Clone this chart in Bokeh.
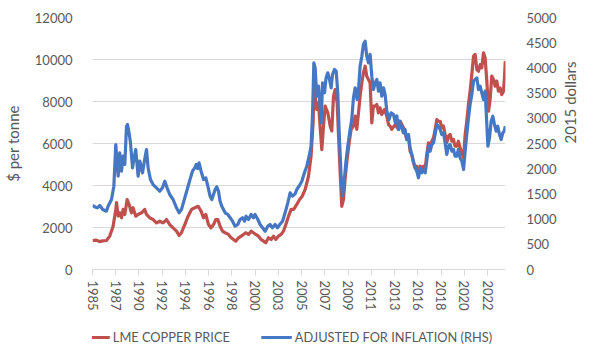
import math
import numpy as np
from bokeh.plotting import figure
from bokeh.layouts import column
from bokeh.models import (Range1d, LinearAxis, FixedTicker, SingleIntervalTicker,
                          Legend, LegendItem)
from bokeh.embed import file_html
from bokeh.resources import INLINE

# ---------------- data ----------------
red_year = [1985.75, 1986.1, 1986.4, 1986.7, 1987.05, 1987.36, 1987.67, 1987.92, 1987.99, 1988.14,
            1988.29, 1988.45, 1988.6, 1988.76, 1988.98, 1989.16, 1989.38, 1989.53, 1989.78, 1990.0,
            1990.32, 1990.62, 1990.78, 1991.09, 1991.4, 1991.71, 1992.02, 1992.33, 1992.65, 1992.95,
            1993.26, 1993.58, 1993.82, 1994.04, 1994.35, 1994.66, 1994.98, 1995.28, 1995.6, 1995.87,
            1996.1, 1996.31, 1996.56, 1996.8, 1997.03, 1997.24, 1997.43, 1997.64, 1997.86, 1998.11,
            1998.42, 1998.67, 1998.89, 1999.1, 1999.36, 1999.6, 1999.82, 2000.04, 2000.29, 2000.53,
            2000.75, 2000.97, 2001.22, 2001.46, 2001.69, 2001.9, 2002.15, 2002.4, 2002.62, 2002.83,
            2003.08, 2003.33, 2003.55, 2003.77, 2004.02, 2004.26, 2004.5, 2004.79, 2005.05, 2005.3,
            2005.57, 2005.88, 2006.12, 2006.31, 2006.4, 2006.5, 2006.65, 2006.81, 2006.96, 2007.12,
            2007.28, 2007.43, 2007.68, 2007.9, 2008.05, 2008.21, 2008.36, 2008.55, 2008.68, 2008.83,
            2008.98, 2009.14, 2009.29, 2009.48, 2009.67, 2009.85, 2010.07, 2010.23, 2010.38, 2010.54,
            2010.69, 2010.85, 2011.0, 2011.16, 2011.31, 2011.47, 2011.62, 2011.78, 2011.93, 2012.09,
            2012.25, 2012.4, 2012.55, 2012.71, 2012.96, 2013.18, 2013.34, 2013.49, 2013.64, 2013.95,
            2014.27, 2014.42, 2014.58, 2014.73, 2014.88, 2015.04, 2015.2, 2015.35, 2015.5, 2015.66,
            2015.82, 2015.97, 2016.13, 2016.29, 2016.45, 2016.6, 2016.76, 2016.9, 2017.06, 2017.22,
            2017.37, 2017.53, 2017.68, 2017.84, 2017.99, 2018.15, 2018.3, 2018.46, 2018.61, 2018.77,
            2018.92, 2019.08, 2019.24, 2019.39, 2019.54, 2019.7, 2019.85, 2020.01, 2020.17, 2020.33,
            2020.48, 2020.63, 2020.79, 2020.94, 2021.1, 2021.26, 2021.41, 2021.57, 2021.72, 2021.88,
            2022.03, 2022.19, 2022.34, 2022.5, 2022.66, 2022.81, 2022.96, 2023.12, 2023.27, 2023.43,
            2023.58, 2023.74, 2023.89, 2024.05, 2024.14, 2024.22]
red_price = [1380, 1400, 1330, 1360, 1380, 1590, 2060, 2860, 3190, 2540,
             2700, 2460, 2860, 2620, 3330, 3100, 2700, 2940, 2540, 2620,
             2700, 2860, 2620, 2460, 2380, 2220, 2300, 2220, 2380, 2140,
             1980, 1825, 1620, 1750, 2140, 2540, 2860, 2940, 3010, 2780,
             2460, 2620, 2140, 1980, 2140, 2380, 2380, 2060, 1825, 1750,
             1670, 1510, 1430, 1350, 1510, 1590, 1670, 1750, 1670, 1825,
             1750, 1670, 1590, 1430, 1350, 1270, 1510, 1430, 1590, 1430,
             1590, 1670, 1825, 2140, 2540, 2860, 2860, 3100, 3330, 3490,
             3810, 4440, 5400, 6980, 8890, 8250, 7620, 7940, 6830, 5710,
             6830, 7780, 7460, 6830, 6600, 8250, 8570, 7940, 6350, 4600,
             3010, 3330, 4290, 5240, 6030, 6670, 6830, 7300, 6670, 7460,
             8250, 8890, 9370, 9680, 9200, 9050, 8890, 6980, 7780, 7780,
             7860, 7460, 7700, 7380, 7620, 7300, 6900, 6830, 6670, 6900,
             6670, 7060, 6900, 6750, 6510, 6190, 6270, 5630, 5480, 5080,
             4840, 4920, 4600, 4920, 4840, 4920, 4840, 5480, 6030, 5790,
             6110, 6270, 6670, 7140, 7060, 7060, 6750, 6830, 6430, 6030,
             6350, 6430, 6110, 6190, 5870, 5870, 6110, 5790, 5560, 5320,
             6430, 7060, 7860, 8490, 9290, 10160, 10240, 9520, 9440, 9760,
             9600, 10320, 10080, 8970, 7540, 8100, 9210, 9050, 8730, 8970,
             8490, 8650, 8330, 8490, 9100, 9920]

blue_year = [1985.75, 1986.0, 1986.2, 1986.43, 1986.7, 1987.05, 1987.2, 1987.52, 1987.74, 1987.92,
             1988.14, 1988.29, 1988.45, 1988.6, 1988.76, 1988.92, 1989.01, 1989.16, 1989.29, 1989.48,
             1989.6, 1989.78, 1990.0, 1990.16, 1990.41, 1990.56, 1990.78, 1990.93, 1991.15, 1991.4,
             1991.71, 1992.02, 1992.27, 1992.49, 1992.7, 1992.95, 1993.26, 1993.58, 1993.82, 1994.04,
             1994.35, 1994.66, 1994.88, 1995.07, 1995.28, 1995.42, 1995.55, 1995.68, 1995.87, 1996.1,
             1996.31, 1996.5, 1996.71, 1996.87, 1997.03, 1997.18, 1997.33, 1997.49, 1997.64, 1997.8,
             1997.96, 1998.11, 1998.36, 1998.58, 1998.8, 1999.04, 1999.29, 1999.5, 1999.73, 1999.92,
             2000.06, 2000.29, 2000.53, 2000.75, 2000.9, 2001.16, 2001.37, 2001.6, 2001.84, 2002.09,
             2002.3, 2002.52, 2002.77, 2002.99, 2003.2, 2003.46, 2003.7, 2003.95, 2004.17, 2004.39,
             2004.63, 2004.79, 2005.0, 2005.26, 2005.5, 2005.72, 2005.94, 2006.12, 2006.25, 2006.38,
             2006.5, 2006.65, 2006.81, 2006.96, 2007.06, 2007.19, 2007.37, 2007.52, 2007.68, 2007.84,
             2007.99, 2008.12, 2008.3, 2008.46, 2008.61, 2008.73, 2008.92, 2009.05, 2009.17, 2009.36,
             2009.54, 2009.76, 2009.91, 2010.07, 2010.23, 2010.41, 2010.54, 2010.69, 2010.85, 2011.0,
             2011.16, 2011.31, 2011.47, 2011.62, 2011.78, 2011.93, 2012.09, 2012.25, 2012.4, 2012.55,
             2012.71, 2012.87, 2013.02, 2013.18, 2013.39, 2013.58, 2013.8, 2013.98, 2014.11, 2014.27,
             2014.42, 2014.57, 2014.73, 2014.88, 2015.04, 2015.2, 2015.35, 2015.5, 2015.66, 2015.82,
             2015.97, 2016.13, 2016.29, 2016.45, 2016.6, 2016.76, 2016.9, 2017.06, 2017.22, 2017.37,
             2017.53, 2017.68, 2017.84, 2017.99, 2018.15, 2018.3, 2018.46, 2018.61, 2018.77, 2018.92,
             2019.08, 2019.24, 2019.39, 2019.54, 2019.7, 2019.85, 2020.01, 2020.17, 2020.33, 2020.48,
             2020.63, 2020.79, 2020.94, 2021.1, 2021.26, 2021.41, 2021.57, 2021.72, 2021.88, 2022.03,
             2022.19, 2022.34, 2022.5, 2022.6, 2022.75, 2022.9, 2023.06, 2023.21, 2023.37, 2023.52,
             2023.68, 2023.83, 2023.99, 2024.12, 2024.22]
blue_real = [1270, 1240, 1224, 1270, 1190, 1157, 1257, 1389, 1653, 2480,
             1851, 2315, 1950, 2248, 2083, 2843, 2877, 2711, 2513, 2018,
             2183, 2381, 1851, 2150, 1918, 2116, 2381, 2018, 1786, 1686,
             1620, 1554, 1620, 1752, 1620, 1488, 1389, 1224, 1125, 1190,
             1422, 1653, 1818, 1950, 2018, 2083, 2000, 2117, 1950, 1786,
             1819, 1653, 1455, 1389, 1488, 1587, 1641, 1554, 1356, 1256,
             1190, 1125, 1091, 1026, 959, 860, 893, 992, 1026, 959,
             1058, 992, 1091, 1026, 1091, 992, 893, 827, 760, 860,
             893, 827, 893, 827, 893, 959, 1125, 1323, 1521, 1455,
             1500, 1587, 1653, 1752, 1918, 2050, 2248, 2447, 3042, 4101,
             4002, 3438, 3637, 3240, 2910, 3704, 3506, 3803, 3902, 3770,
             3605, 3869, 3968, 3935, 3506, 2778, 1851, 1455, 1653, 2117,
             2447, 2778, 2976, 3406, 3605, 3373, 3571, 4034, 4232, 4464,
             4530, 4232, 4101, 4266, 3835, 3571, 3704, 3770, 3538, 3704,
             3438, 3605, 3472, 3141, 2976, 3108, 3075, 2910, 3050, 2778,
             2942, 2810, 2711, 2778, 2579, 2678, 2414, 2282, 2150, 2018,
             1950, 1819, 2018, 1918, 1984, 1918, 2150, 2447, 2348, 2480,
             2513, 2678, 2877, 2843, 2778, 2678, 2711, 2513, 2282, 2447,
             2480, 2348, 2381, 2248, 2248, 2381, 2215, 2150, 1984, 2348,
             2678, 3009, 3274, 3472, 3736, 3770, 3803, 3571, 3637, 3506,
             3373, 3538, 2877, 2447, 2612, 2942, 3042, 2877, 2744, 2843,
             2678, 2579, 2711, 2744, 2843]

assert len(red_year) == len(red_price)
assert len(blue_year) == len(blue_real)

x_tick_labels = ["1985", "1987", "1990", "1992", "1994", "1996", "1998", "2000", "2003",
                 "2005", "2007", "2009", "2011", "2013", "2016", "2018", "2020", "2022"]
x_first_tick = 1985.75
x_tick_step = 26 / 12.0     # category-axis label interval (26 months)
x_end = 2024.24

left_max, left_step = 12000, 2000
right_max, right_step = 5000, 500

red_name = "LME COPPER PRICE"
blue_name = "ADJUSTED FOR INFLATION (RHS)"
left_title = "$ per tonne"
right_title = "2015 dollars"

# ---------------- styling ----------------
FONT = "Lato"
TXT = "#595959"
GRID = "#d9d9d9"
RED = "#C0504D"
BLUE = "#4677C2"

p = figure(frame_width=413, frame_height=252, output_backend="svg", toolbar_location=None,
           x_range=Range1d(x_first_tick, x_end), y_range=Range1d(0, left_max),
           min_border_left=83, min_border_right=81, min_border_top=17, min_border_bottom=41)
p.extra_y_ranges = {"rhs": Range1d(0, right_max)}
p.outline_line_color = None
p.background_fill_color = "white"
p.border_fill_color = "white"

line_style = dict(line_width=3.2, line_join="round")
r_red = p.line(red_year, red_price, line_color=RED, **line_style)
r_blue = p.line(blue_year, blue_real, line_color=BLUE, y_range_name="rhs", **line_style)

# x axis
ticks = [round(x_first_tick + k * x_tick_step, 4) for k in range(len(x_tick_labels))]
xa = p.xaxis[0]
xa.ticker = FixedTicker(ticks=ticks)
xa.major_label_overrides = {t: lab for t, lab in zip(ticks, x_tick_labels)}
xa.major_label_orientation = "vertical"
xa.axis_line_color = GRID
xa.major_tick_line_color = GRID
xa.major_tick_in = 0
xa.major_tick_out = 6
xa.minor_tick_line_color = None
xa.major_label_standoff = 5
xa.major_label_text_font = FONT
xa.major_label_text_font_size = "13px"
xa.major_label_text_color = TXT

# left axis
ya = p.yaxis[0]
ya.ticker = SingleIntervalTicker(interval=left_step)
ya.axis_line_color = None
ya.major_tick_line_color = None
ya.minor_tick_line_color = None
ya.major_label_standoff = 14
ya.major_label_text_font = FONT
ya.major_label_text_font_size = "13px"
ya.major_label_text_color = TXT
ya.axis_label = left_title
ya.axis_label_text_font = FONT
ya.axis_label_text_font_size = "15px"
ya.axis_label_text_font_style = "normal"
ya.axis_label_text_color = TXT
ya.axis_label_standoff = 10

# right axis
ra = LinearAxis(y_range_name="rhs", ticker=SingleIntervalTicker(interval=right_step))
ra.axis_line_color = None
ra.major_tick_line_color = None
ra.minor_tick_line_color = None
ra.major_label_standoff = 15
ra.major_label_text_font = FONT
ra.major_label_text_font_size = "13px"
ra.major_label_text_color = TXT
ra.axis_label = right_title
ra.axis_label_text_font = FONT
ra.axis_label_text_font_size = "15px"
ra.axis_label_text_font_style = "normal"
ra.axis_label_text_color = TXT
ra.axis_label_standoff = 10
ra.axis_label_orientation = math.pi / 2
p.add_layout(ra, "right")

p.xgrid.grid_line_color = None
p.ygrid.grid_line_color = GRID
p.ygrid.grid_line_width = 1

# ---------------- legend strip below the chart ----------------
lg = figure(width=577, height=32, output_backend="svg", toolbar_location=None,
            x_range=Range1d(0, 1), y_range=Range1d(0, 1),
            x_axis_location=None, y_axis_location=None,
            min_border_left=0, min_border_right=0, min_border_top=0, min_border_bottom=0)
lg.outline_line_color = None
lg.grid.visible = False
lg.background_fill_alpha = 0
# invisible placeholder renderers (a single NaN point) that only give the legend its swatches
lg_red = lg.line(np.array([np.nan]), np.array([np.nan]), line_color=RED, **line_style)
lg_blue = lg.line(np.array([np.nan]), np.array([np.nan]), line_color=BLUE, **line_style)
# trailing spaces only widen the measured label box so its last glyphs are not clipped
legend = Legend(items=[LegendItem(label=red_name, renderers=[lg_red]),
                       LegendItem(label=blue_name + "    ", renderers=[lg_blue])],
                orientation="horizontal", location="bottom_center",
                glyph_width=31, glyph_height=16, label_standoff=3, spacing=31,
                padding=0, margin=0, border_line_color=None, background_fill_alpha=0,
                label_text_font=FONT, label_text_font_size="12.8px", label_text_color=TXT,
                label_height=16)
lg.add_layout(legend, "center")

layout = column(p, lg, spacing=0)
open("out.html", "w").write(file_html(layout, INLINE))
